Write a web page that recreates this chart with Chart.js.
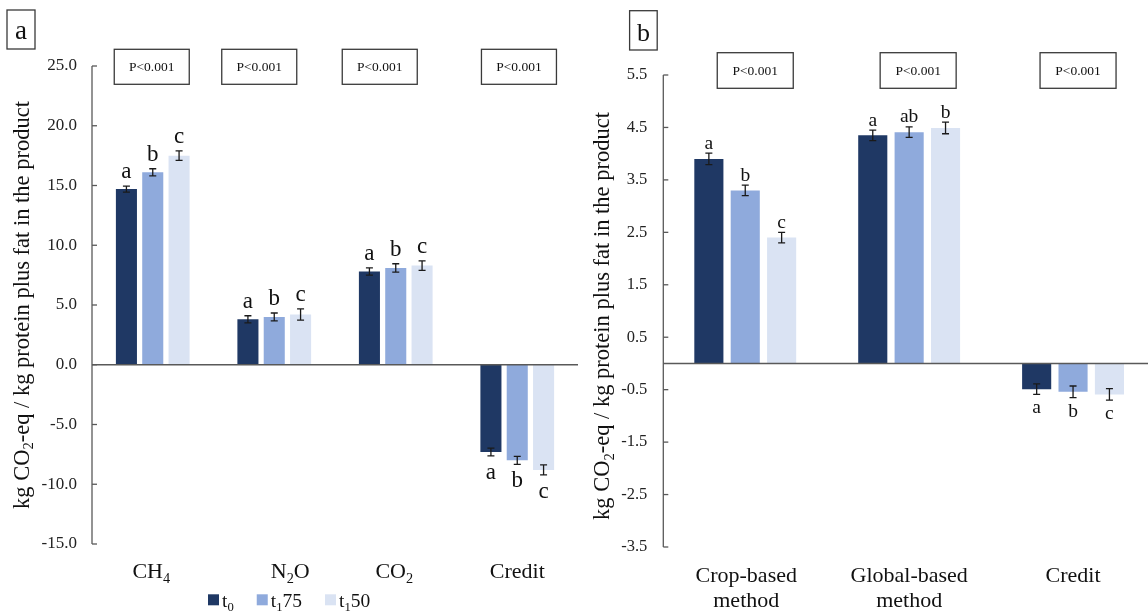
<!DOCTYPE html>
<html><head><meta charset="utf-8">
<script src="https://cdn.jsdelivr.net/npm/chart.js@4.4.1/dist/chart.umd.min.js"></script>
<style>
html,body{margin:0;padding:0;background:#fff;overflow:hidden;width:1148px;height:613px;position:relative;}
canvas{position:absolute;top:0;}
</style></head><body>
<canvas id="chartA" width="580" height="613" style="left:0px"></canvas>
<canvas id="chartB" width="590" height="613" style="left:580px"></canvas>
<script>
// ---------- data ----------
const seriesNames = ['t₀', 't₁75', 't₁50'];
const seriesColors = ['#1F3864', '#8FAADC', '#DAE3F3'];
const yTitle = 'kg CO₂-eq / kg protein plus fat in the product';

// panel a
const catsA = ['CH₄', 'N₂O', 'CO₂', 'Credit'];
const t0A   = [14.7, 3.8, 7.8, -7.3];
const t175A = [16.1, 4.0, 8.1, -8.0];
const t150A = [17.5, 4.2, 8.3, -8.8];
const errT0A   = [0.25, 0.30, 0.30, 0.33];
const errT175A = [0.30, 0.33, 0.35, 0.33];
const errT150A = [0.40, 0.47, 0.40, 0.42];
const lettersT0A   = ['a', 'a', 'a', 'a'];
const lettersT175A = ['b', 'b', 'b', 'b'];
const lettersT150A = ['c', 'c', 'c', 'c'];
const pLabelsA = ['P<0.001', 'P<0.001', 'P<0.001', 'P<0.001'];
const yMinA = -15, yMaxA = 25, yStepA = 5;

// panel b
const catsB = [['Crop-based', 'method'], ['Global-based', 'method'], ['Credit']];
const t0B   = [3.90, 4.35, -0.49];
const t175B = [3.30, 4.41, -0.54];
const t150B = [2.40, 4.49, -0.59];
const errT0B   = [0.11, 0.10, 0.10];
const errT175B = [0.10, 0.10, 0.11];
const errT150B = [0.10, 0.11, 0.11];
const lettersT0B   = ['a', 'a', 'a'];
const lettersT175B = ['b', 'ab', 'b'];
const lettersT150B = ['c', 'b', 'c'];
const pLabelsB = ['P<0.001', 'P<0.001', 'P<0.001'];
const yMinB = -3.5, yMaxB = 5.5, yStepB = 1;

// ---------- styling ----------
const AXIS_COLOR = '#595959';
const TEXT_COLOR = '#111111';
const FONT = '"Liberation Serif", "Times New Roman", serif';
Chart.defaults.font.family = FONT;

const SUB = {'₀':'0','₁':'1','₂':'2','₃':'3','₄':'4','₅':'5','₆':'6','₇':'7','₈':'8','₉':'9'};
function runs(text) {
  const r = [];
  for (const ch of text) {
    const sub = SUB[ch] !== undefined;
    const c = sub ? SUB[ch] : ch;
    if (r.length && r[r.length - 1].sub === sub) r[r.length - 1].t += c;
    else r.push({t: c, sub});
  }
  return r;
}
function richWidth(ctx, text, size) {
  let w = 0;
  for (const r of runs(text)) { ctx.font = (r.sub ? size * 0.65 : size) + 'px ' + FONT; w += ctx.measureText(r.t).width; }
  return w;
}
function drawRich(ctx, text, x, y, size, align) {
  const w = richWidth(ctx, text, size);
  let cx = align === 'center' ? x - w / 2 : (align === 'right' ? x - w : x);
  ctx.textAlign = 'left'; ctx.textBaseline = 'alphabetic';
  for (const r of runs(text)) {
    const s = r.sub ? size * 0.65 : size;
    ctx.font = s + 'px ' + FONT;
    ctx.fillText(r.t, cx, y + (r.sub ? size * 0.22 : 0));
    cx += ctx.measureText(r.t).width;
  }
  return w;
}

const panelSettings = {
  chartA: {
    cats: catsA, pLabels: pLabelsA,
    cap: 3.5, gapAbove: 8, gapBelow: 23, letterSize: 23,
    titleX: 28.5, titleY: 305, titleSize: 22.5,
    catSize: 22, catBaseline: 578, catLineGap: 25, catOffsets: [-1.5, 16, -1.5, 0],
    pOffsets: [-1, -15, -16, 1.7], pTop: 49.3, pW: 75, pH: 35, pSize: 13.5,
    panelBox: {x: 7, y: 10, w: 28, h: 39, label: 'a', size: 27, baseline: 38.5},
    legend: {x: 208, top: 594.3, box: 11, gap: 3, size: 19.5, baseline: 606.5, spacing: 23}
  },
  chartB: {
    cats: catsB, pLabels: pLabelsB,
    cap: 3.5, gapAbove: 4.5, gapBelow: 19, letterSize: 19.5,
    titleX: 29, titleY: 316, titleSize: 22.5,
    catSize: 22, catBaseline: 581.7, catLineGap: 25, catOffsets: [1, 0, 0],
    pOffsets: [10, 9, 5], pTop: 52.7, pW: 76, pH: 35.6, pSize: 13.5,
    panelBox: {x: 49.6, y: 10.7, w: 27.6, h: 39.3, label: 'b', size: 26, baseline: 40.5},
    legend: null
  }
};

const decoPlugin = {
  id: 'deco',
  afterDatasetsDraw(chart) {
    const s = panelSettings[chart.canvas.id];
    const ctx = chart.ctx, ys = chart.scales.y, ca = chart.chartArea;
    ctx.save();
    // y axis line
    ctx.strokeStyle = AXIS_COLOR; ctx.lineWidth = 1.3;
    ctx.beginPath(); ctx.moveTo(ca.left, ca.top); ctx.lineTo(ca.left, ca.bottom); ctx.stroke();
    // inward ticks
    ys.ticks.forEach((t, i) => {
      const py = ys.getPixelForTick(i);
      ctx.beginPath(); ctx.moveTo(ca.left, py); ctx.lineTo(ca.left + 5, py); ctx.stroke();
    });
    // zero line
    const y0 = ys.getPixelForValue(0);
    ctx.lineWidth = 1.6;
    ctx.beginPath(); ctx.moveTo(ca.left, y0); ctx.lineTo(ca.right, y0); ctx.stroke();
    // error bars + letters
    chart.data.datasets.forEach((ds, di) => {
      const meta = chart.getDatasetMeta(di);
      meta.data.forEach((bar, j) => {
        const v = ds.data[j], e = ds.errors[j];
        const yHi = ys.getPixelForValue(v + e), yLo = ys.getPixelForValue(v - e);
        ctx.strokeStyle = '#1a1a1a'; ctx.lineWidth = 1.3;
        ctx.beginPath();
        ctx.moveTo(bar.x, yHi); ctx.lineTo(bar.x, yLo);
        ctx.moveTo(bar.x - s.cap, yHi); ctx.lineTo(bar.x + s.cap, yHi);
        ctx.moveTo(bar.x - s.cap, yLo); ctx.lineTo(bar.x + s.cap, yLo);
        ctx.stroke();
        ctx.fillStyle = TEXT_COLOR;
        const ly = v >= 0 ? yHi - s.gapAbove : yLo + s.gapBelow;
        drawRich(ctx, ds.letters[j], bar.x, ly, s.letterSize, 'center');
      });
    });
    ctx.restore();
  },
  afterDraw(chart) {
    const s = panelSettings[chart.canvas.id];
    const ctx = chart.ctx, xs = chart.scales.x;
    ctx.save();
    ctx.fillStyle = TEXT_COLOR;
    // y title
    ctx.save();
    ctx.translate(s.titleX, s.titleY); ctx.rotate(-Math.PI / 2);
    drawRich(ctx, yTitle, 0, 0, s.titleSize, 'center');
    ctx.restore();
    // category labels
    s.cats.forEach((c, i) => {
      const lines = Array.isArray(c) ? c : [c];
      const px = xs.getPixelForValue(i) + s.catOffsets[i];
      lines.forEach((ln, k) => drawRich(ctx, ln, px, s.catBaseline + k * s.catLineGap, s.catSize, 'center'));
    });
    // P boxes
    s.pLabels.forEach((p, i) => {
      const cx = xs.getPixelForValue(i) + s.pOffsets[i];
      ctx.strokeStyle = '#3a3a3a'; ctx.lineWidth = 1.3;
      ctx.strokeRect(cx - s.pW / 2, s.pTop, s.pW, s.pH);
      ctx.font = s.pSize + 'px ' + FONT; ctx.textAlign = 'center'; ctx.textBaseline = 'middle';
      ctx.fillText(p, cx, s.pTop + s.pH / 2 + 0.5);
    });
    // panel letter box
    const pb = s.panelBox;
    ctx.strokeStyle = '#3a3a3a'; ctx.lineWidth = 1.3;
    ctx.strokeRect(pb.x, pb.y, pb.w, pb.h);
    drawRich(ctx, pb.label, pb.x + pb.w / 2, pb.baseline, pb.size, 'center');
    // legend
    if (s.legend) {
      const L = s.legend;
      let x = L.x;
      chart.data.datasets.forEach((ds) => {
        ctx.fillStyle = ds.backgroundColor;
        ctx.fillRect(x, L.top, L.box, L.box);
        ctx.fillStyle = TEXT_COLOR;
        const w = drawRich(ctx, ds.label, x + L.box + L.gap, L.baseline, L.size, 'left');
        x += L.box + L.gap + w + L.spacing;
      });
    }
    ctx.restore();
  }
};

function makeChart(id, cats, series, errs, letters, yMin, yMax, yStep, geom) {
  const datasets = series.map((d, i) => ({
    label: seriesNames[i], data: d, errors: errs[i], letters: letters[i],
    backgroundColor: seriesColors[i], borderWidth: 0,
    categoryPercentage: geom.catPct, barPercentage: geom.barPct
  }));
  return new Chart(document.getElementById(id), {
    type: 'bar',
    data: { labels: cats.map(c => Array.isArray(c) ? c.join(' ') : c), datasets },
    options: {
      responsive: false, animation: false, devicePixelRatio: 1,
      layout: { padding: geom.padding },
      plugins: { legend: { display: false }, tooltip: { enabled: false } },
      scales: {
        x: { display: false },
        y: {
          min: yMin, max: yMax,
          afterFit: (scale) => { scale.width = geom.axisWidth; },
          grid: { display: false, drawTicks: false },
          border: { display: false },
          ticks: {
            stepSize: yStep, padding: geom.tickPad, color: '#222',
            font: { size: geom.tickSize, family: FONT },
            callback: (v) => Number(v).toFixed(1)
          }
        }
      }
    },
    plugins: [decoPlugin]
  });
}

makeChart('chartA', catsA, [t0A, t175A, t150A], [errT0A, errT175A, errT150A],
  [lettersT0A, lettersT175A, lettersT150A], yMinA, yMaxA, yStepA,
  { catPct: 0.65, barPct: 0.8, axisWidth: 92, tickPad: 15, tickSize: 17,
    padding: { left: 0, right: 2, top: 66, bottom: 69 } });

makeChart('chartB', catsB, [t0B, t175B, t150B], [errT0B, errT175B, errT150B],
  [lettersT0B, lettersT175B, lettersT150B], yMinB, yMaxB, yStepB,
  { catPct: 0.666, barPct: 0.8, axisWidth: 83.3, tickPad: 16, tickSize: 16.5,
    padding: { left: 0, right: 15, top: 75, bottom: 66 } });
</script>
</body></html>
